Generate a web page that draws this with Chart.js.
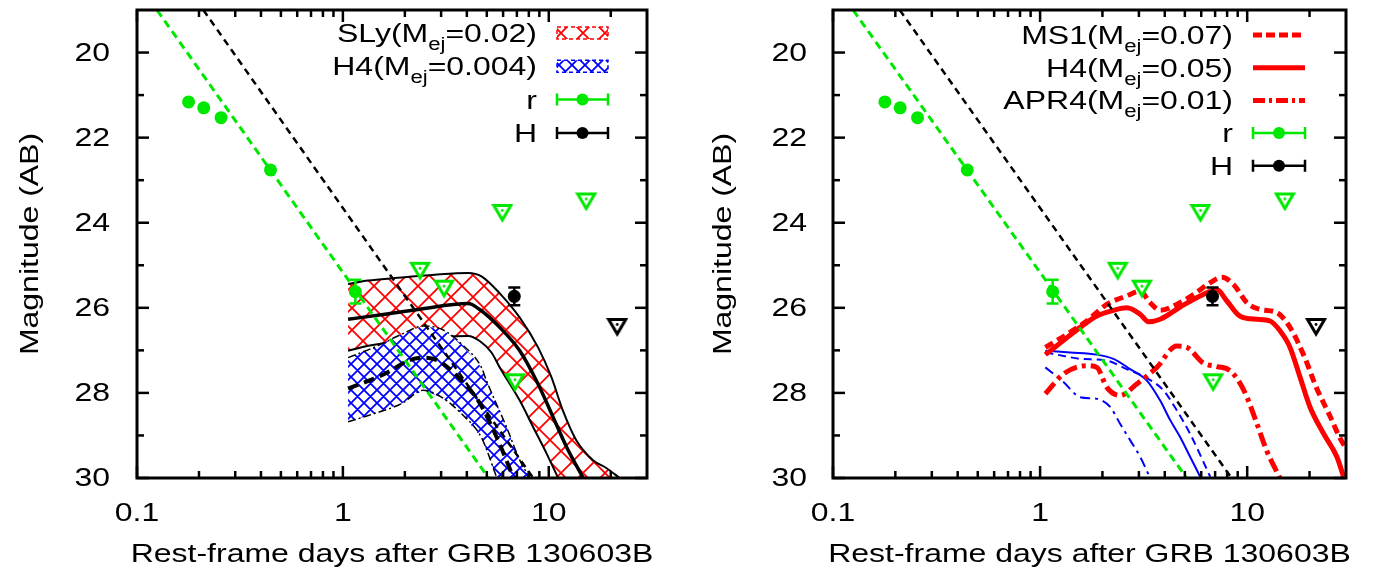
<!DOCTYPE html>
<html>
<head>
<meta charset="utf-8">
<script src="https://cdn.jsdelivr.net/npm/chart.js@4.4.0/dist/chart.umd.min.js"></script>
<style>
  body { margin: 0; background: #fff; width: 1374px; height: 580px; position: relative; overflow: hidden; }
  canvas { position: absolute; top: 0; }
  #left { left: 0; }
  #right { left: 690px; }
</style>
</head>
<body>
<canvas id="left" width="690" height="580"></canvas>
<canvas id="right" width="684" height="580"></canvas>
<script>
// --- axes ---
const xTicks = [0.1, 1, 10];
const xMinor = [0.2, 0.3, 0.4, 0.5, 0.6, 0.7, 0.8, 0.9, 2, 3, 4, 5, 6, 7, 8, 9, 20];
const yTicks = [20, 22, 24, 26, 28, 30];
const yMinor = [21, 23, 25, 27, 29];
const xTitle = 'Rest-frame days after GRB 130603B';
const yTitle = 'Magnitude (AB)';

// --- observations (rest-frame days, AB mag) ---
const rDays = [0.178, 0.211, 0.256, 0.445, 1.15];
const rMag = [21.16, 21.30, 21.53, 22.76, 25.62];
const rErr = [0, 0, 0, 0, 0.28];
const hDays = [6.8];
const hMag = [25.73];
const hErr = [0.21];
const rLimDays = [2.37, 3.10, 5.95, 6.85, 15.2];
const rLimMag = [25.13, 25.55, 23.77, 27.75, 23.50];
const hLimDays = [21.5];
const hLimMag = [26.45];

// afterglow power-law fits, ends read at the frame edges
const rFitDays = [0.125, 5.1];
const rFitMag = [19.0, 30.0];
const hFitDays = [0.21, 8.4];
const hFitMag = [19.0, 30.0];

// --- left panel: SLy (Mej=0.02) and H4 (Mej=0.004) bands ---
const slyUpDays = [1.06, 1.33, 1.79, 2.80, 4.06, 4.71, 5.78, 7.23, 8.87, 10.3, 11.7, 13.6, 16.4, 19.1, 22.1];
const slyUpMag = [25.44, 25.36, 25.30, 25.22, 25.18, 25.26, 25.66, 26.23, 26.93, 27.63, 28.41, 29.11, 29.58, 29.77, 30.0];
const slyMidDays = [1.06, 1.60, 2.32, 4.06, 4.62, 5.78, 7.23, 8.87, 10.5, 12.2, 14.7];
const slyMidMag = [26.27, 26.15, 26.04, 25.90, 26.04, 26.46, 27.01, 27.79, 28.57, 29.27, 30.0];
const slyLowDays = [1.06, 1.33, 3.13, 4.06, 4.62, 5.27, 5.78, 7.23, 8.39, 9.75, 11.1];
const slyLowMag = [27.01, 26.89, 26.68, 26.66, 26.78, 27.05, 27.40, 28.18, 28.80, 29.42, 30.0];

const h4UpDays = [1.06, 1.48, 1.93, 2.45, 3.01, 3.77, 4.71, 4.98, 6.23, 7.23, 8.09];
const h4UpMag = [27.17, 26.89, 26.62, 26.43, 26.50, 26.85, 27.40, 27.71, 28.80, 29.58, 30.0];
const h4MidDays = [1.06, 1.60, 2.08, 2.45, 2.90, 3.63, 4.54, 5.57, 6.75];
const h4MidMag = [27.90, 27.55, 27.24, 27.17, 27.24, 27.63, 28.18, 29.03, 30.0];
const h4LowDays = [1.06, 1.33, 1.93, 2.45, 3.01, 3.77, 4.71, 5.6];
const h4LowMag = [28.68, 28.53, 28.25, 27.94, 28.10, 28.49, 29.05, 30.0];

// --- right panel: H band (red) and r band (blue) models ---
const ms1Days = [1.06, 1.35, 1.68, 2.10, 2.62, 3.04, 3.40, 3.80, 4.57, 5.50, 6.63, 7.55, 8.59, 9.97, 11.6, 13.9, 16.1, 18.7, 21.7, 25.2, 28.1, 30];
const ms1Mag = [26.93, 26.62, 26.31, 25.92, 25.72, 25.61, 25.88, 26.06, 25.92, 25.69, 25.41, 25.28, 25.45, 25.88, 26.04, 26.11, 26.46, 27.10, 27.90, 28.56, 29.07, 29.3];
const h4bDays = [1.06, 1.35, 1.56, 1.88, 2.26, 2.62, 3.04, 3.34, 3.80, 4.75, 5.93, 7.14, 7.98, 9.25, 11.1, 12.9, 14.4, 16.1, 18.0, 20.1, 23.4, 27.1, 29.2];
const h4bMag = [27.10, 26.70, 26.46, 26.19, 26.06, 26.00, 26.15, 26.33, 26.27, 25.98, 25.72, 25.57, 25.84, 26.20, 26.27, 26.31, 26.54, 26.93, 27.63, 28.33, 28.96, 29.50, 29.97];
const apr4Days = [1.06, 1.30, 1.68, 1.88, 2.10, 2.43, 2.93, 3.66, 4.57, 5.11, 6.15, 7.14, 8.28, 9.6, 11.1, 12.4, 14.4];
const apr4Mag = [28.02, 27.55, 27.36, 27.40, 27.87, 28.06, 27.79, 27.40, 26.90, 26.93, 27.30, 27.38, 27.48, 27.92, 28.70, 29.35, 30.0];

const h4rDays = [1.06, 1.40, 1.88, 2.26, 2.72, 3.28, 3.80, 4.25, 4.75, 5.30, 5.93];
const h4rMag = [27.01, 27.05, 27.10, 27.20, 27.44, 27.71, 28.18, 28.64, 29.04, 29.50, 29.97];
const ms1rDays = [1.06, 1.30, 1.56, 2.10, 2.62, 3.28, 3.94, 4.57, 5.30, 6.63];
const ms1rMag = [27.05, 27.13, 27.20, 27.24, 27.44, 27.65, 27.94, 28.41, 28.96, 29.97];
const apr4rDays = [1.06, 1.30, 1.56, 1.88, 2.18, 2.43, 2.72, 3.04, 3.40];
const apr4rMag = [27.40, 27.75, 28.10, 28.14, 28.33, 28.72, 29.11, 29.50, 30.0];

// --- styling ---
const GREEN = '#00e800';
const RED = '#ff0000';
const BLUE = '#0000ff';
const FONT = "'Liberation Sans', Arial, Helvetica, sans-serif";
const TEXT = '26px ' + FONT;
const SUB = '18px ' + FONT;
const SX = 1.23;   // the original font is a wide one

Chart.defaults.font.family = FONT;
Chart.defaults.color = '#000';

const pts = (xs, ys) => xs.map((x, i) => ({ x: x, y: ys[i] }));
const polygon = (upX, upY, lowX, lowY) => pts(upX, upY).concat(pts(lowX, lowY).reverse());

function hatch(ctx, size, color, bg) {
    const c = document.createElement('canvas');
    c.width = c.height = size;
    const g = c.getContext('2d');
    if (bg) { g.fillStyle = bg; g.fillRect(0, 0, size, size); }
    g.strokeStyle = color;
    g.lineWidth = 1.8;
    g.beginPath();
    for (let k = -1; k <= 1; k++) {
        g.moveTo(k * size, 0); g.lineTo(k * size + size, size);
        g.moveTo(k * size + size, 0); g.lineTo(k * size, size);
    }
    g.stroke();
    return ctx.createPattern(c, 'repeat');
}

// open down-pointing triangle with a dot: upper limit
function limitMarker(color) {
    const c = document.createElement('canvas');
    c.width = 22; c.height = 20;
    const g = c.getContext('2d');
    g.beginPath();
    g.moveTo(2.5, 2.5); g.lineTo(19.5, 2.5); g.lineTo(11, 17); g.closePath();
    g.fillStyle = '#fff'; g.fill();
    g.lineWidth = 3; g.strokeStyle = color; g.stroke();
    g.beginPath(); g.arc(11, 7.5, 1.4, 0, Math.PI * 2);
    g.fillStyle = color; g.fill();
    return c;
}

// text stretched along its baseline
function wideText(ctx, str, x, y, align, font, rot) {
    ctx.save();
    ctx.font = font;
    ctx.textAlign = 'left';
    const w = ctx.measureText(str).width * SX;
    const off = align === 'center' ? -w / 2 : (align === 'right' ? -w : 0);
    ctx.translate(x, y);
    if (rot) ctx.rotate(rot);
    ctx.scale(SX, 1);
    ctx.fillText(str, off / SX, 0);
    ctx.restore();
    return w;
}

// --- plugins ---
const framePlugin = {
    id: 'frame',
    afterDraw(chart) {
        const { ctx, chartArea: a, scales: { x, y } } = chart;
        const seg = (x0, y0, x1, y1) => { ctx.beginPath(); ctx.moveTo(x0, y0); ctx.lineTo(x1, y1); ctx.stroke(); };
        ctx.save();
        ctx.strokeStyle = '#000';
        ctx.setLineDash([]);
        ctx.lineWidth = 2.5;
        const xt = (vals, len) => vals.forEach(v => {
            const p = x.getPixelForValue(v);
            seg(p, a.bottom, p, a.bottom - len);
            seg(p, a.top, p, a.top + len);
        });
        const yt = (vals, len) => vals.forEach(v => {
            const p = y.getPixelForValue(v);
            seg(a.left, p, a.left + len, p);
            seg(a.right, p, a.right - len, p);
        });
        xt(xTicks, 12); xt(xMinor, 7);
        yt(yTicks, 12); yt(yMinor, 7);
        ctx.lineWidth = 3;
        ctx.strokeRect(a.left, a.top, a.right - a.left, a.bottom - a.top);
        ctx.restore();
    }
};

function makeLabels(geo) {
    return {
        id: 'labels',
        afterDraw(chart) {
            const { ctx, chartArea: a, scales: { x, y } } = chart;
            ctx.save();
            ctx.fillStyle = '#000';
            ctx.textBaseline = 'middle';
            xTicks.forEach(v => wideText(ctx, String(v), x.getPixelForValue(v), 514, 'center', TEXT));
            yTicks.forEach(v => wideText(ctx, String(v), a.left - geo.yTickPad, y.getPixelForValue(v) + 1, 'right', TEXT));
            ctx.textBaseline = 'alphabetic';
            wideText(ctx, xTitle, (a.left + a.right) / 2, 562, 'center', TEXT);
            wideText(ctx, yTitle, geo.yTitleX, (a.top + a.bottom) / 2, 'center', TEXT, -Math.PI / 2);
            ctx.restore();
        }
    };
}

const errorBarPlugin = {
    id: 'errorBars',
    afterDatasetsDraw(chart) {
        const { ctx, scales: { x, y } } = chart;
        chart.data.datasets.forEach(ds => {
            if (!ds.errY) return;
            ctx.save();
            ctx.strokeStyle = ds.backgroundColor;
            ctx.lineWidth = 2.5;
            ds.data.forEach((p, i) => {
                const e = ds.errY[i];
                if (!e) return;
                const px = x.getPixelForValue(p.x);
                const y0 = y.getPixelForValue(p.y - e);
                const y1 = y.getPixelForValue(p.y + e);
                ctx.beginPath();
                ctx.moveTo(px, y0); ctx.lineTo(px, y1);
                ctx.moveTo(px - 6, y0); ctx.lineTo(px + 6, y0);
                ctx.moveTo(px - 6, y1); ctx.lineTo(px + 6, y1);
                ctx.stroke();
            });
            ctx.restore();
        });
    }
};

// gnuplot style key with subscripts, drawn inside the frame
function makeKey(items, geo) {
    return {
        id: 'key',
        afterDraw(chart) {
            const ctx = chart.ctx;
            ctx.save();
            ctx.fillStyle = '#000';
            ctx.textBaseline = 'alphabetic';
            items.forEach((it, i) => {
                const yc = geo.keyTop + i * geo.keyStep;
                const base = yc + 9;
                const fonts = [TEXT, SUB, TEXT];
                const widths = it.text.map((t, j) => { ctx.font = fonts[j]; return ctx.measureText(t).width * SX; });
                let xx = geo.keyRight - widths.reduce((s, w) => s + w, 0);
                it.text.forEach((t, j) => {
                    wideText(ctx, t, xx, j === 1 ? base + 8 : base, 'left', fonts[j]);
                    xx += widths[j];
                });
                it.sample(ctx, geo.sampleL, geo.sampleR, yc);
            });
            ctx.restore();
        }
    };
}

const hatchSample = (pattern, color) => (ctx, x0, x1, y) => {
    ctx.save();
    ctx.fillStyle = pattern;
    ctx.fillRect(x0, y - 6, x1 - x0, 12);
    ctx.setLineDash([4, 3]);
    ctx.lineWidth = 1.5;
    ctx.strokeStyle = color;
    ctx.strokeRect(x0, y - 6, x1 - x0, 12);
    ctx.restore();
};
const barSample = color => (ctx, x0, x1, y) => {
    ctx.save();
    ctx.strokeStyle = color; ctx.fillStyle = color;
    ctx.lineWidth = 2.5; ctx.setLineDash([]);
    ctx.beginPath();
    ctx.moveTo(x0, y); ctx.lineTo(x1, y);
    ctx.moveTo(x0, y - 6); ctx.lineTo(x0, y + 6);
    ctx.moveTo(x1, y - 6); ctx.lineTo(x1, y + 6);
    ctx.stroke();
    ctx.beginPath(); ctx.arc((x0 + x1) / 2, y, 6, 0, Math.PI * 2); ctx.fill();
    ctx.restore();
};
const lineSample = (color, dash, width) => (ctx, x0, x1, y) => {
    ctx.save();
    ctx.strokeStyle = color; ctx.lineWidth = width; ctx.setLineDash(dash);
    ctx.beginPath(); ctx.moveTo(x0, y); ctx.lineTo(x1, y); ctx.stroke();
    ctx.restore();
};

function obsSets() {
    const limR = limitMarker(GREEN);
    const limH = limitMarker('#000');
    return [
        { label: 'r', data: pts(rDays, rMag), errY: rErr, pointRadius: 6.5, backgroundColor: GREEN, borderWidth: 0, order: 0 },
        { label: 'H', data: pts(hDays, hMag), errY: hErr, pointRadius: 6.5, backgroundColor: '#000', borderWidth: 0, order: 0 },
        { label: 'r upper limits', data: pts(rLimDays, rLimMag), pointStyle: limR, pointRadius: 9, order: 0 },
        { label: 'H upper limit', data: pts(hLimDays, hLimMag), pointStyle: limH, pointRadius: 9, order: 0 },
        { label: 'r afterglow', data: pts(rFitDays, rFitMag), showLine: true, borderColor: GREEN, borderWidth: 3, borderDash: [8, 5], pointRadius: 0, order: 1 },
        { label: 'H afterglow', data: pts(hFitDays, hFitMag), showLine: true, borderColor: '#000', borderWidth: 2.5, borderDash: [7, 5], pointRadius: 0, order: 1 }
    ];
}

const curve = (label, xs, ys, color, width, dash, order) => ({
    label: label, data: pts(xs, ys), showLine: true, borderColor: color, borderWidth: width,
    borderDash: dash, pointRadius: 0, cubicInterpolationMode: 'monotone', order: order
});

function panel(id, geo, datasets, keyItems) {
    return new Chart(document.getElementById(id), {
        type: 'scatter',
        data: { datasets: datasets },
        options: {
            responsive: false,
            animation: false,
            devicePixelRatio: 1,
            layout: { padding: { left: 0, top: 8, right: geo.padRight, bottom: 0 } },
            plugins: { legend: { display: false }, tooltip: { enabled: false } },
            scales: {
                x: {
                    type: 'logarithmic', min: 0.1, max: 30,
                    grid: { display: false, drawTicks: false },
                    border: { display: false },
                    ticks: { display: false },
                    afterBuildTicks: s => { s.ticks = xTicks.map(v => ({ value: v })); },
                    afterFit: s => { s.height = 102; s.paddingLeft = 0; s.paddingRight = 0; }
                },
                y: {
                    type: 'linear', reverse: true, min: 19, max: 30,
                    grid: { display: false, drawTicks: false },
                    border: { display: false },
                    ticks: { display: false },
                    afterBuildTicks: s => { s.ticks = yTicks.map(v => ({ value: v })); },
                    afterFit: s => { s.width = geo.yAxisW; s.paddingTop = 0; s.paddingBottom = 0; }
                }
            }
        },
        plugins: [framePlugin, errorBarPlugin, makeLabels(geo), makeKey(keyItems, geo)]
    });
}

// --- left panel ---
const lctx = document.getElementById('left').getContext('2d');
const redHatch = hatch(lctx, 22, RED, null);
const blueHatch = hatch(lctx, 13, BLUE, '#fff');

const leftSets = obsSets().concat([
    curve('H4 upper', h4UpDays, h4UpMag, '#000', 1.5, [8, 3, 2, 3], 2),
    curve('H4 lower', h4LowDays, h4LowMag, '#000', 1.5, [8, 3, 2, 3], 2),
    curve('H4 median', h4MidDays, h4MidMag, '#000', 4, [11, 6], 2),
    { label: 'H4 band', data: polygon(h4UpDays, h4UpMag, h4LowDays, h4LowMag), showLine: true, fill: 'shape',
      backgroundColor: blueHatch, borderWidth: 0, pointRadius: 0, order: 3 },
    curve('SLy upper', slyUpDays, slyUpMag, '#000', 2, [], 4),
    curve('SLy median', slyMidDays, slyMidMag, '#000', 3.5, [], 4),
    curve('SLy lower', slyLowDays, slyLowMag, '#000', 2, [], 4),
    { label: 'SLy band', data: polygon(slyUpDays, slyUpMag, slyLowDays, slyLowMag), showLine: true, fill: 'shape',
      backgroundColor: redHatch, borderWidth: 0, pointRadius: 0, order: 5 }
]);

panel('left', { padRight: 43, yAxisW: 137, yTickPad: 27, yTitleX: 38, keyRight: 537, sampleL: 557, sampleR: 608, keyTop: 33, keyStep: 33.3 },
    leftSets, [
        { text: ['SLy(M', 'ej', '=0.02)'], sample: hatchSample(redHatch, RED) },
        { text: ['H4(M', 'ej', '=0.004)'], sample: hatchSample(blueHatch, BLUE) },
        { text: ['r'], sample: barSample(GREEN) },
        { text: ['H'], sample: barSample('#000') }
    ]);

// --- right panel ---
const rightSets = obsSets().concat([
    curve('MS1 H', ms1Days, ms1Mag, RED, 5, [9, 5], 2),
    curve('H4 H', h4bDays, h4bMag, RED, 5, [], 2),
    curve('APR4 H', apr4Days, apr4Mag, RED, 5, [14, 5, 4, 5], 2),
    curve('MS1 r', ms1rDays, ms1rMag, BLUE, 2, [8, 5], 3),
    curve('H4 r', h4rDays, h4rMag, BLUE, 2, [], 3),
    curve('APR4 r', apr4rDays, apr4rMag, BLUE, 2, [10, 5, 3, 5], 3)
]);

panel('right', { padRight: 28, yAxisW: 143, yTickPad: 26, yTitleX: 41, keyRight: 543, sampleL: 563, sampleR: 615, keyTop: 35, keyStep: 32.7 },
    rightSets, [
        { text: ['MS1(M', 'ej', '=0.07)'], sample: lineSample(RED, [9, 4], 5) },
        { text: ['H4(M', 'ej', '=0.05)'], sample: lineSample(RED, [], 5) },
        { text: ['APR4(M', 'ej', '=0.01)'], sample: lineSample(RED, [12, 4, 3, 4], 5) },
        { text: ['r'], sample: barSample(GREEN) },
        { text: ['H'], sample: barSample('#000') }
    ]);
</script>
</body>
</html>
